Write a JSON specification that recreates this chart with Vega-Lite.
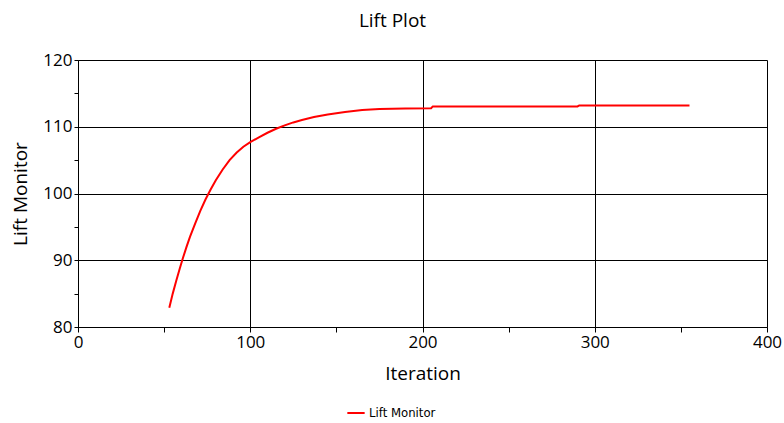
{
  "$schema": "https://vega.github.io/schema/vega-lite/v6.json",
  "width": 689,
  "height": 267,
  "autosize": {"type": "none"},
  "padding": {"left": 78, "top": 60, "right": 17, "bottom": 96},
  "background": "white",
  "title": {
    "text": "Lift Plot",
    "font": "Open Sans",
    "fontSize": 19,
    "fontWeight": "normal",
    "color": "#000000",
    "anchor": "middle",
    "dx": -30,
    "offset": 20
  },
  "data": {
    "values": [
      {"iteration": 53, "lift": 82.9, "series": "Lift Monitor"},
      {"iteration": 55, "lift": 85.0, "series": "Lift Monitor"},
      {"iteration": 57, "lift": 86.9, "series": "Lift Monitor"},
      {"iteration": 59, "lift": 88.7, "series": "Lift Monitor"},
      {"iteration": 61, "lift": 90.4, "series": "Lift Monitor"},
      {"iteration": 63, "lift": 92.0, "series": "Lift Monitor"},
      {"iteration": 65, "lift": 93.5, "series": "Lift Monitor"},
      {"iteration": 68, "lift": 95.5, "series": "Lift Monitor"},
      {"iteration": 71, "lift": 97.4, "series": "Lift Monitor"},
      {"iteration": 74, "lift": 99.1, "series": "Lift Monitor"},
      {"iteration": 77, "lift": 100.6, "series": "Lift Monitor"},
      {"iteration": 80, "lift": 102.0, "series": "Lift Monitor"},
      {"iteration": 84, "lift": 103.6, "series": "Lift Monitor"},
      {"iteration": 88, "lift": 105.0, "series": "Lift Monitor"},
      {"iteration": 92, "lift": 106.1, "series": "Lift Monitor"},
      {"iteration": 96, "lift": 107.0, "series": "Lift Monitor"},
      {"iteration": 100, "lift": 107.7, "series": "Lift Monitor"},
      {"iteration": 105, "lift": 108.4, "series": "Lift Monitor"},
      {"iteration": 110, "lift": 109.1, "series": "Lift Monitor"},
      {"iteration": 115, "lift": 109.7, "series": "Lift Monitor"},
      {"iteration": 120, "lift": 110.2, "series": "Lift Monitor"},
      {"iteration": 125, "lift": 110.65, "series": "Lift Monitor"},
      {"iteration": 130, "lift": 111.0, "series": "Lift Monitor"},
      {"iteration": 137, "lift": 111.45, "series": "Lift Monitor"},
      {"iteration": 145, "lift": 111.85, "series": "Lift Monitor"},
      {"iteration": 155, "lift": 112.2, "series": "Lift Monitor"},
      {"iteration": 165, "lift": 112.5, "series": "Lift Monitor"},
      {"iteration": 175, "lift": 112.65, "series": "Lift Monitor"},
      {"iteration": 190, "lift": 112.75, "series": "Lift Monitor"},
      {"iteration": 205, "lift": 112.78, "series": "Lift Monitor"},
      {"iteration": 206, "lift": 113.05, "series": "Lift Monitor"},
      {"iteration": 250, "lift": 113.05, "series": "Lift Monitor"},
      {"iteration": 290, "lift": 113.05, "series": "Lift Monitor"},
      {"iteration": 291, "lift": 113.2, "series": "Lift Monitor"},
      {"iteration": 355, "lift": 113.2, "series": "Lift Monitor"}
    ]
  },
  "mark": {"type": "line", "strokeWidth": 2, "interpolate": "linear"},
  "encoding": {
    "x": {
      "field": "iteration",
      "type": "quantitative",
      "scale": {"domain": [0, 400], "nice": false, "zero": false},
      "axis": {
        "title": "Iteration",
        "values": [0, 50, 100, 150, 200, 250, 300, 350, 400],
        "labelExpr": "datum.value % 100 === 0 ? datum.label : ''",
        "gridOpacity": {"condition": {"test": "datum.value % 100 === 0", "value": 1}, "value": 0},
        "labelFlush": false,
        "labelBound": false,
        "tickSize": 5,
        "labelPadding": 2,
        "titlePadding": 14
      }
    },
    "y": {
      "field": "lift",
      "type": "quantitative",
      "scale": {"domain": [80, 120], "nice": false, "zero": false},
      "axis": {
        "title": "Lift Monitor",
        "values": [80, 85, 90, 95, 100, 105, 110, 115, 120],
        "labelExpr": "datum.value % 10 === 0 ? datum.label : ''",
        "gridOpacity": {"condition": {"test": "datum.value % 10 === 0", "value": 1}, "value": 0},
        "labelFlush": false,
        "tickSize": 4,
        "labelPadding": 2,
        "titlePadding": 12
      }
    },
    "color": {
      "field": "series",
      "type": "nominal",
      "scale": {"range": ["#ff0000"]},
      "legend": {
        "title": null,
        "orient": "none",
        "legendX": 268,
        "legendY": 343,
        "symbolType": "stroke",
        "symbolStrokeWidth": 2,
        "symbolSize": 300,
        "labelFont": "DejaVu Sans Condensed, Liberation Sans, sans-serif",
        "labelFontSize": 13,
        "labelColor": "#000000",
        "labelOffset": 3
      }
    }
  },
  "config": {
    "view": {"stroke": null},
    "axis": {
      "domainColor": "#000000",
      "tickColor": "#000000",
      "gridColor": "#000000",
      "gridWidth": 1,
      "labelFont": "Open Sans",
      "labelFontSize": 17,
      "labelColor": "#000000",
      "titleFont": "Open Sans",
      "titleFontSize": 19,
      "titleFontWeight": "normal",
      "titleColor": "#000000"
    }
  }
}
